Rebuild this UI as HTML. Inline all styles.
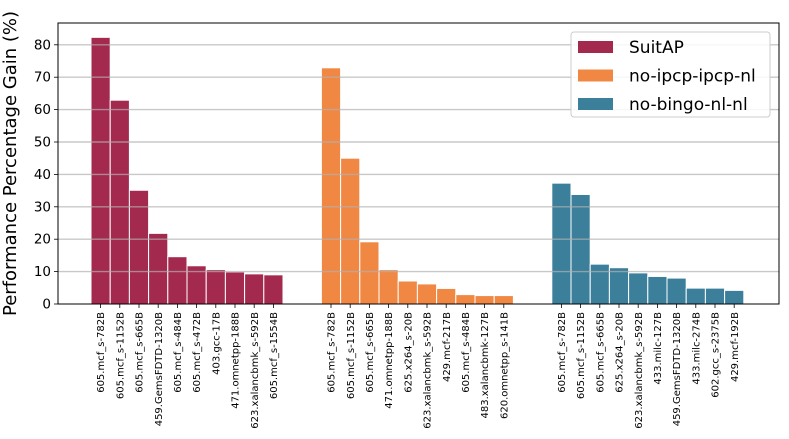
<!DOCTYPE html>
<html><head><meta charset="utf-8"><style>
body{margin:0;background:#fff;width:789px;height:434px;overflow:hidden}
svg{font-family:"DejaVu Sans","Liberation Sans",sans-serif}
</style></head><body>
<svg id="chart" width="789" height="434" viewBox="0 0 789 434" xmlns="http://www.w3.org/2000/svg"></svg>
<script>
const seriesNames = ["SuitAP","no-ipcp-ipcp-nl","no-bingo-nl-nl"];
const seriesColors = ["#a4294f","#f08844","#3b7f9b"];
const labelsA = ["605.mcf_s-782B","605.mcf_s-1152B","605.mcf_s-665B","459.GemsFDTD-1320B","605.mcf_s-484B","605.mcf_s-472B","403.gcc-17B","471.omnetpp-188B","623.xalancbmk_s-592B","605.mcf_s-1554B"];
const valuesA = [82.3,62.9,35.1,21.8,14.6,11.8,10.6,9.9,9.3,9.0];
const labelsB = ["605.mcf_s-782B","605.mcf_s-1152B","605.mcf_s-665B","471.omnetpp-188B","625.x264_s-20B","623.xalancbmk_s-592B","429.mcf-217B","605.mcf_s-484B","483.xalancbmk-127B","620.omnetpp_s-141B"];
const valuesB = [72.9,45.0,19.2,10.6,7.1,6.2,4.8,2.9,2.6,2.6];
const labelsC = ["605.mcf_s-782B","605.mcf_s-1152B","605.mcf_s-665B","625.x264_s-20B","623.xalancbmk_s-592B","433.milc-127B","459.GemsFDTD-1320B","433.milc-274B","602.gcc_s-2375B","429.mcf-192B"];
const valuesC = [37.3,33.8,12.3,11.2,9.6,8.5,8.0,4.9,4.9,4.2];
const yTicks = [0,10,20,30,40,50,60,70,80];

const NS="http://www.w3.org/2000/svg";
const svg=document.getElementById('chart');
const L=58,R=779,T=23,B=304;
const slotW=19.2, x0=91;
function xSlot(i){return x0+i*slotW;}
function y(v){return B-v*3.24;}
function mk(tag,attrs,parent){const e=document.createElementNS(NS,tag);for(const k in attrs)e.setAttribute(k,attrs[k]);(parent||svg).appendChild(e);return e;}

const groups=[[labelsA,valuesA],[labelsB,valuesB],[labelsC,valuesC]];
groups.forEach((g,gi)=>{
  g[1].forEach((v,i)=>{
    const s=gi*12+i;
    const r=mk('rect',{x:xSlot(s),y:y(v),width:slotW,height:B-y(v),fill:seriesColors[gi],stroke:'#fff','stroke-width':1});
    
    
    const cx=xSlot(s)+slotW/2;
    mk('line',{x1:cx,x2:cx,y1:B,y2:B+4,stroke:'#000','stroke-width':0.8});
    const t=mk('text',{x:0,y:0,transform:`translate(${cx+3.6},${B+8}) rotate(-90)`,'text-anchor':'end','font-size':10,fill:'#000'});
    t.textContent=g[0][i];
    
    
  });
});
yTicks.forEach(v=>{
  if(v>0){const gl=mk('line',{x1:L,x2:R,y1:y(v),y2:y(v),stroke:'#b0b0b0','stroke-width':1.4,'stroke-opacity':0.7});
  }
  mk('line',{x1:L-4,x2:L,y1:y(v),y2:y(v),stroke:'#000','stroke-width':0.8});
  const t=mk('text',{x:L-7,y:y(v)+4.5,'text-anchor':'end','font-size':13.5,fill:'#000'});
  t.textContent=v;
  
  
});
const fr=mk('rect',{x:L,y:T,width:R-L,height:B-T,fill:'none',stroke:'#000','stroke-width':1});

const yt=mk('text',{x:0,y:0,transform:`translate(16,${(T+B)/2}) rotate(-90)`,'text-anchor':'middle','font-size':18,fill:'#000'});
yt.textContent='Performance Percentage Gain (%)';

const lg=mk('g',{});

mk('rect',{x:571,y:32,width:199,height:85,rx:3,fill:'#fff','fill-opacity':0.85,stroke:'#ccc','stroke-width':1},lg);
seriesNames.forEach((n,i)=>{
  const yy=41+i*28.5;
  const sw=mk('rect',{x:578,y:yy,width:35,height:12,fill:seriesColors[i]},lg);
  
  const t=mk('text',{x:629,y:yy+12,'font-size':17,fill:'#000'},lg);
  t.textContent=n;
  
});
</script>
</body></html>
